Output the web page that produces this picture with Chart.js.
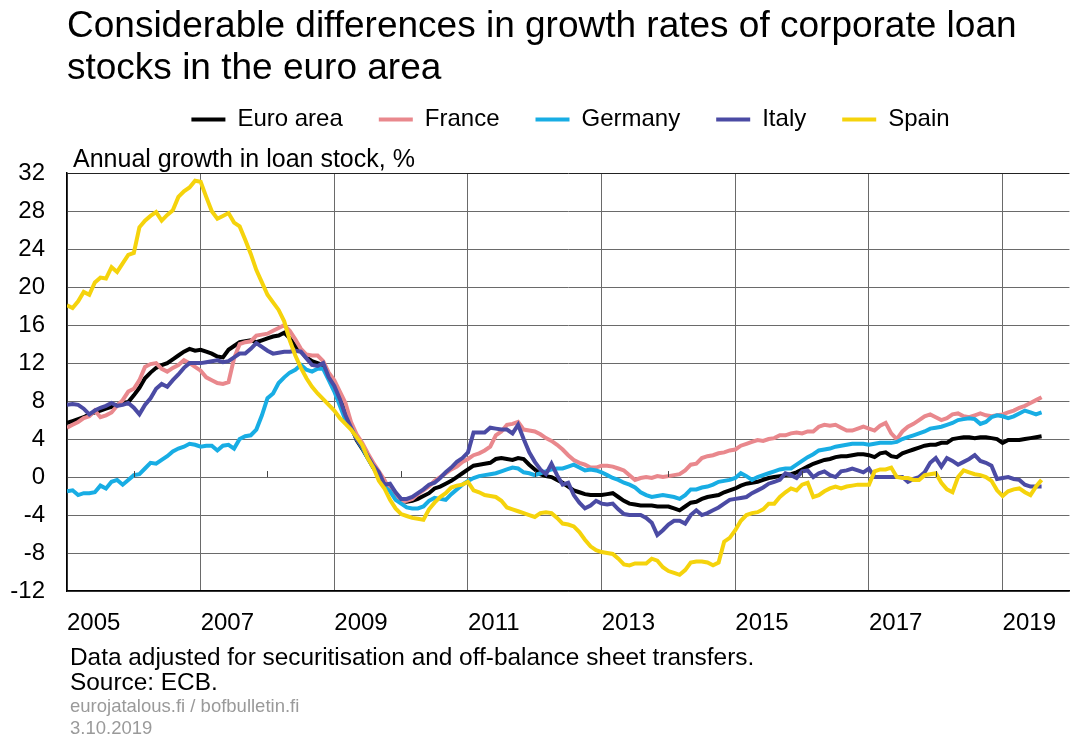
<!DOCTYPE html>
<html>
<head>
<meta charset="utf-8">
<script src="https://cdn.jsdelivr.net/npm/chart.js@4.4.1/dist/chart.umd.min.js"></script>
<style>
  html, body { margin: 0; padding: 0; background: #ffffff; }
  #wrap { position: relative; width: 1074px; height: 737px; overflow: hidden; }
  #c { position: absolute; left: 0; top: 0; }
  .note { position: absolute; left: 70px; font-family: "Liberation Sans", Arial, sans-serif; white-space: nowrap; line-height: 1; color: #000; }
  .grey { color: #9a9a9a; }
</style>
</head>
<body>
<div id="wrap">
  <canvas id="c" width="1074" height="737"></canvas>
  <div class="note" style="top:645px;font-size:24.4px;">Data adjusted for securitisation and off-balance sheet transfers.</div>
  <div class="note" style="top:670px;font-size:24.4px;">Source: ECB.</div>
  <div class="note grey" style="top:697px;font-size:18.5px;">eurojatalous.fi / bofbulletin.fi</div>
  <div class="note grey" style="top:719px;font-size:18.5px;">3.10.2019</div>
</div>
<script>
// ---- Data (monthly, Jan 2005 – Aug 2019), annual growth in loan stock, % ----
const startYear = 2005;
const monthCount = 176;
const months = [];
for (let i = 0; i < monthCount; i++) {
  const y = startYear + Math.floor(i / 12);
  const m = (i % 12) + 1;
  months.push(y + '-' + (m < 10 ? '0' + m : m));
}

const titleLines = ['Considerable differences in growth rates of corporate loan', 'stocks in the euro area'];
const axisTitle = 'Annual growth in loan stock, %';
const seriesNames = ['Euro area', 'France', 'Germany', 'Italy', 'Spain'];
const seriesColors = ['#000000', '#e9888d', '#18ade4', '#4b4ba4', '#f5d30c'];
const yTicks = { min: -12, max: 32, step: 4 };
const xTickYears = [2005, 2007, 2009, 2011, 2013, 2015, 2017, 2019];
const minorTickYears = [2006, 2008, 2010, 2012, 2014, 2016, 2018];

const euroArea = [
5.7,5.9,6.1,6.3,6.6,6.8,7.0,7.2,7.4,7.6,7.8,7.9,
8.6,9.4,10.4,11.0,11.5,11.8,12.0,12.4,12.8,13.2,13.5,13.3,
13.4,13.2,13.0,12.7,12.6,13.4,13.8,14.2,14.3,14.4,14.2,14.4,
14.6,14.8,14.9,15.2,14.6,13.8,13.2,12.6,12.2,12.0,11.8,10.4,
9.3,8.2,6.8,5.5,3.9,3.0,2.0,1.0,0.2,-0.5,-1.2,-2.0,
-2.5,-2.6,-2.5,-2.3,-2.0,-1.7,-1.2,-1.0,-0.7,-0.4,0.0,0.4,
0.8,1.2,1.3,1.4,1.5,1.9,2.0,1.9,1.8,2.0,1.9,1.3,
0.8,0.3,0.1,0.0,-0.3,-0.6,-1.0,-1.4,-1.6,-1.8,-1.9,-1.9,
-1.9,-1.8,-1.7,-2.1,-2.5,-2.8,-2.9,-3.0,-3.0,-3.0,-3.1,-3.1,
-3.1,-3.3,-3.5,-3.1,-2.7,-2.6,-2.3,-2.1,-2.0,-1.9,-1.6,-1.4,
-1.2,-0.9,-0.7,-0.6,-0.5,-0.3,-0.1,0.0,0.1,0.2,0.3,0.5,
0.8,1.1,1.4,1.6,1.8,1.9,2.1,2.2,2.2,2.3,2.4,2.4,
2.3,2.1,2.5,2.6,2.2,2.1,2.5,2.7,2.9,3.1,3.3,3.4,
3.4,3.6,3.6,4.0,4.1,4.2,4.2,4.1,4.2,4.2,4.1,4.0,
3.6,3.9,3.9,3.9,4.0,4.1,4.2,4.3];

const france = [
5.2,5.5,5.8,6.2,6.4,7.0,6.3,6.5,6.8,7.5,8.1,9.0,
9.3,10.2,11.6,11.9,12.0,11.4,11.1,11.5,11.8,12.3,12.0,11.6,
11.2,10.5,10.2,9.9,9.8,10.0,12.5,14.0,14.2,14.3,14.9,15.0,
15.1,15.4,15.7,16.0,15.4,14.5,13.5,12.9,12.8,12.8,12.2,11.0,
10.2,9.0,7.8,5.8,4.5,3.6,2.5,1.5,0.6,-0.3,-1.4,-2.1,
-2.6,-2.5,-2.3,-1.8,-1.4,-1.0,-0.4,0.0,0.4,0.8,1.1,1.6,
1.9,2.3,2.5,2.8,3.2,4.4,4.8,5.5,5.6,5.8,5.0,4.9,
4.8,4.5,4.1,3.8,3.4,2.9,2.3,1.8,1.5,1.3,1.0,1.0,
1.2,1.2,1.1,0.9,0.7,0.2,-0.3,-0.1,0.0,-0.1,0.1,0.0,
0.1,0.2,0.3,0.7,1.3,1.4,2.0,2.2,2.3,2.5,2.6,2.8,
2.9,3.3,3.5,3.7,3.9,3.8,4.0,4.1,4.4,4.4,4.6,4.7,
4.6,4.8,4.8,5.3,5.5,5.4,5.5,5.2,4.9,4.9,5.1,5.3,
5.1,4.9,5.4,5.7,4.6,4.0,4.8,5.3,5.6,6.0,6.4,6.6,
6.3,6.0,6.2,6.6,6.7,6.4,6.3,6.5,6.7,6.5,6.4,6.5,
6.6,6.8,7.0,7.3,7.5,7.8,8.1,8.4];

const germany = [
-1.5,-1.4,-1.9,-1.7,-1.7,-1.6,-0.9,-1.2,-0.5,-0.3,-0.8,-0.3,
0.2,0.3,0.9,1.5,1.4,1.8,2.2,2.7,3.0,3.2,3.5,3.4,
3.2,3.3,3.3,2.8,3.3,3.4,3.0,4.0,4.3,4.4,5.0,6.5,
8.3,8.8,9.9,10.5,11.0,11.3,11.8,11.3,11.1,11.4,11.4,10.2,
9.0,7.5,6.0,5.2,4.0,3.1,2.0,1.0,0.0,-1.0,-1.5,-2.4,
-2.8,-3.2,-3.3,-3.3,-3.1,-2.5,-2.2,-2.3,-2.4,-1.8,-1.3,-0.8,
-0.4,-0.1,0.1,0.2,0.3,0.4,0.6,0.8,1.0,0.9,0.5,0.4,
0.2,0.4,0.6,0.8,0.9,0.9,1.1,1.3,1.0,0.7,0.8,0.7,
0.5,0.2,-0.1,-0.3,-0.6,-0.8,-1.1,-1.6,-1.9,-2.1,-2.0,-1.9,
-2.0,-2.1,-2.3,-1.9,-1.3,-1.3,-1.1,-1.0,-0.8,-0.5,-0.4,-0.3,
-0.1,0.4,0.1,-0.3,0.0,0.2,0.4,0.6,0.8,0.9,0.9,1.3,
1.7,2.1,2.4,2.8,2.9,3.0,3.2,3.3,3.4,3.5,3.5,3.5,
3.4,3.5,3.6,3.6,3.6,3.7,4.0,4.2,4.4,4.6,4.8,5.1,
5.2,5.3,5.5,5.7,6.0,6.1,6.2,6.1,5.6,5.8,6.3,6.5,
6.4,6.2,6.4,6.7,7.0,6.8,6.6,6.8];

const italy = [
7.6,7.7,7.6,7.2,6.6,7.0,7.3,7.5,7.8,7.5,7.6,7.8,
7.3,6.6,7.6,8.3,9.3,9.8,9.5,10.2,10.8,11.5,12.0,12.0,
12.0,12.1,12.2,12.3,12.1,12.2,12.6,13.0,13.0,13.5,14.1,13.7,
13.3,13.0,13.1,13.2,13.2,13.3,13.2,12.5,11.8,11.7,12.0,10.5,
9.6,8.2,6.5,5.2,4.0,3.2,2.2,1.2,0.5,-0.8,-0.7,-1.6,
-2.3,-2.3,-2.1,-1.7,-1.3,-0.8,-0.6,-0.1,0.5,1.0,1.6,2.0,
2.6,4.7,4.7,4.7,5.2,5.1,5.0,5.0,4.6,5.5,4.0,2.6,
1.6,0.8,0.3,1.4,0.2,-0.8,-0.6,-1.9,-2.7,-3.3,-3.0,-2.5,
-2.8,-2.9,-2.8,-3.4,-3.9,-4.0,-4.0,-4.0,-4.3,-4.8,-6.1,-5.6,
-5.0,-4.6,-4.6,-4.9,-4.0,-3.5,-4.0,-3.8,-3.5,-3.2,-2.8,-2.4,
-2.3,-2.2,-2.1,-1.7,-1.4,-1.1,-0.7,-0.5,-0.3,0.4,0.2,-0.1,
0.6,0.7,0.0,0.4,0.6,0.2,0.0,0.6,0.7,0.9,0.7,0.5,
0.9,0.0,0.0,0.0,0.0,0.0,0.0,-0.5,-0.2,0.0,0.5,1.5,
2.0,1.1,2.0,1.7,1.3,1.6,1.9,2.3,1.7,1.5,1.2,-0.2,
-0.1,0.0,-0.2,-0.3,-0.8,-1.0,-1.0,-1.0];

const spain = [
18.1,17.8,18.5,19.5,19.2,20.5,21.0,20.9,22.1,21.6,22.5,23.4,
23.6,26.3,27.0,27.5,27.9,27.0,27.6,28.1,29.5,30.1,30.5,31.2,
31.1,29.5,28.0,27.2,27.5,27.8,26.8,26.4,25.0,23.5,21.8,20.5,
19.2,18.4,17.6,16.4,14.4,12.8,11.5,10.4,9.5,8.8,8.2,7.6,
7.0,6.2,5.6,5.0,4.2,3.4,2.0,1.0,-0.4,-1.2,-2.4,-3.3,
-3.9,-4.1,-4.3,-4.4,-4.5,-3.4,-2.7,-2.1,-1.7,-1.1,-0.9,-0.8,
-0.5,-1.4,-1.6,-1.9,-2.0,-2.1,-2.5,-3.2,-3.4,-3.6,-3.8,-4.0,
-4.2,-3.8,-3.7,-3.8,-4.3,-4.9,-5.0,-5.2,-5.8,-6.6,-7.3,-7.7,
-7.9,-8.0,-8.1,-8.6,-9.2,-9.3,-9.1,-9.1,-9.1,-8.6,-8.8,-9.5,
-9.9,-10.1,-10.3,-9.8,-9.0,-8.9,-8.9,-9.0,-9.3,-9.0,-6.8,-6.4,
-5.6,-4.6,-4.0,-3.8,-3.7,-3.4,-2.8,-2.8,-2.1,-1.6,-1.2,-1.4,
-0.8,-0.6,-2.1,-1.9,-1.5,-1.2,-1.0,-1.2,-1.0,-0.9,-0.8,-0.8,
-0.8,0.6,0.8,0.8,1.0,0.0,-0.1,-0.1,-0.3,-0.3,0.2,0.3,
0.4,-0.6,-1.3,-1.6,0.0,0.7,0.5,0.3,0.2,0.0,-0.4,-1.4,
-2.0,-1.5,-1.3,-1.2,-1.6,-1.9,-1.0,-0.3];

// ---- Build chart ----
const FONT = "'Liberation Sans', Arial, sans-serif";
const seriesValues = [euroArea, france, germany, italy, spain];

function toPoints(values) {
  return values.map((v, i) => {
    const [y, m] = months[i].split('-').map(Number);
    return { x: y + (m - 1) / 12, y: v };
  });
}

const datasets = seriesNames.map((name, k) => ({
  label: name,
  data: toPoints(seriesValues[k]),
  borderColor: seriesColors[k],
  backgroundColor: seriesColors[k],
  borderWidth: 4,
  pointRadius: 0,
  pointHoverRadius: 0,
  tension: 0,
  fill: false,
  order: seriesNames.length - k
}));

// Layout tweaks: let y tick labels use the left margin, nudge the axis title.
const layoutTweaks = {
  id: 'layoutTweaks',
  afterLayout(chart) {
    const ys = chart.scales.y;
    ys.left = 0;
    chart.boxes.forEach(b => {
      if (b.options && b.options.text === axisTitle) { b.left += 6; b.right += 6; }
    });
  },
  afterDatasetsDraw(chart) {
    // small minor tick marks on the zero line at even years
    const ctx = chart.ctx, xs = chart.scales.x, ys = chart.scales.y;
    const y0 = ys.getPixelForValue(0);
    ctx.save();
    ctx.strokeStyle = '#444';
    ctx.lineWidth = 1;
    minorTickYears.forEach(yr => {
      const x = Math.round(xs.getPixelForValue(yr)) + 0.5;
      ctx.beginPath();
      ctx.moveTo(x, y0);
      ctx.lineTo(x, y0 - 6);
      ctx.stroke();
    });
    ctx.restore();
  }
};

new Chart(document.getElementById('c'), {
  type: 'line',
  data: { datasets },
  plugins: [layoutTweaks],
  options: {
    responsive: false,
    animation: false,
    events: [],
    layout: { padding: { left: 67, right: 0, top: 0, bottom: 101 } },
    plugins: {
      title: {
        display: true,
        text: titleLines,
        align: 'start',
        color: '#000',
        font: { family: FONT, size: 37, weight: 'normal', lineHeight: 1.135 },
        padding: { top: 5.5, bottom: -18 }
      },
      subtitle: {
        display: true,
        text: axisTitle,
        align: 'start',
        color: '#000',
        weight: 500,
        font: { family: FONT, size: 25, weight: 'normal', lineHeight: 1.2 },
        padding: { top: 3.2, bottom: -1.5 }
      },
      legend: {
        display: true,
        position: 'top',
        align: 'center',
        labels: {
          color: '#000',
          font: { family: FONT, size: 24 },
          boxWidth: 34,
          boxHeight: 4,
          padding: 36,
          sort: (a, b) => a.datasetIndex - b.datasetIndex,
          generateLabels: (chart) => {
            const items = Chart.defaults.plugins.legend.labels.generateLabels(chart);
            return items.map(it => Object.assign(it, { lineWidth: 0, fillStyle: seriesColors[it.datasetIndex], strokeStyle: seriesColors[it.datasetIndex] }));
          }
        }
      },
      tooltip: { enabled: false }
    },
    scales: {
      x: {
        type: 'linear',
        min: 2005,
        max: 2020,
        afterBuildTicks: (scale) => {
          scale.ticks = xTickYears.map(v => ({ value: v }));
        },
        afterFit: (scale) => { scale.height = 45; },
        ticks: {
          align: 'start',
          padding: 18,
          color: '#000',
          font: { family: FONT, size: 24 },
          maxRotation: 0,
          autoSkip: false,
          callback: (v) => String(v)
        },
        grid: { color: '#6a6a6a', lineWidth: 1, drawTicks: false },
        border: { color: '#000', width: 1.5 }
      },
      y: {
        min: yTicks.min,
        max: yTicks.max,
        afterFit: (scale) => { scale.width = 0; },
        ticks: {
          stepSize: yTicks.step,
          padding: 22,
          color: '#000',
          font: { family: FONT, size: 24 }
        },
        grid: {
          color: (ctx) => (ctx.tick && ctx.tick.value === yTicks.max ? '#222' : '#6a6a6a'),
          lineWidth: 1,
          drawTicks: false
        },
        border: { color: '#000', width: 1.5 }
      }
    }
  }
});
</script>
</body>
</html>
